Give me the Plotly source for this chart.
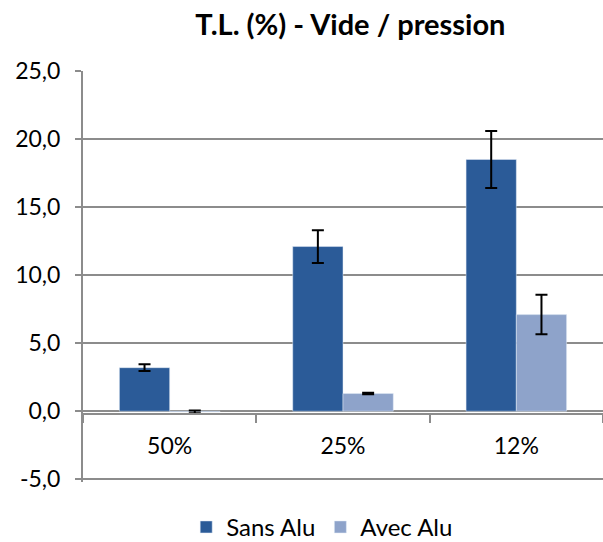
import plotly.graph_objects as go

categories = ["50%", "25%", "12%"]
sans_alu = [3.2, 12.1, 18.5]
sans_err = [0.25, 1.2, 2.1]
avec_alu = [-0.05, 1.3, 7.1]
avec_err = [0.1, 0.05, 1.45]
y_ticks = [-5, 0, 5, 10, 15, 20, 25]
y_labels = [f"{v:.1f}".replace(".", ",") for v in y_ticks]

C_SANS = "#2B5B98"
C_AVEC = "#8EA3CA"
C_GRID = "#8C8C8C"
FONT = "Lato"

fig = go.Figure()
fig.add_trace(go.Bar(name="Sans Alu", x=categories, y=sans_alu, marker_color=C_SANS,
    error_y=dict(type="data", array=sans_err, color="black", thickness=2, width=6)))
fig.add_trace(go.Bar(name="Avec Alu", x=categories, y=avec_alu, marker_color=C_AVEC,
    error_y=dict(type="data", array=avec_err, color="black", thickness=2, width=6)))

y_min, y_max = -5, 25
fig.update_layout(
    width=603, height=542, barmode="group", bargap=0.42, bargroupgap=0,
    paper_bgcolor="white", plot_bgcolor="white",
    font=dict(family=FONT, color="black", size=22),
    margin=dict(l=83, r=0, t=71, b=60, autoexpand=False),
    title=dict(text="<b>T.L. (%) - Vide / pression</b>", x=0.581, xanchor="center",
               y=0.954, yanchor="middle", font=dict(size=29)),
    showlegend=True,
    legend=dict(orientation="h", x=0.46, xanchor="center", yref="container", y=0.027,
                yanchor="middle", font=dict(size=24), itemwidth=30, tracegroupgap=0),
    xaxis=dict(anchor="free", position=(0 - y_min) / (y_max - y_min), showline=True,
               linecolor=C_GRID, linewidth=2, ticks="outside", tickson="boundaries",
               ticklen=8, tickcolor=C_GRID, tickwidth=2, showgrid=False,
               ticklabelstandoff=12, tickfont=dict(size=23)),
    yaxis=dict(range=[y_min - 0.2, y_max], tickvals=y_ticks, ticktext=y_labels, showline=True,
               linecolor=C_GRID, linewidth=2, ticks="outside", ticklen=6,
               tickcolor=C_GRID, tickwidth=2, showgrid=True, gridcolor=C_GRID,
               gridwidth=2, zeroline=False, tickfont=dict(size=23), ticklabelstandoff=10),
)

fig.write_html("out.html", config={"displayModeBar": False},
               post_script="document.body.style.margin='0';")
